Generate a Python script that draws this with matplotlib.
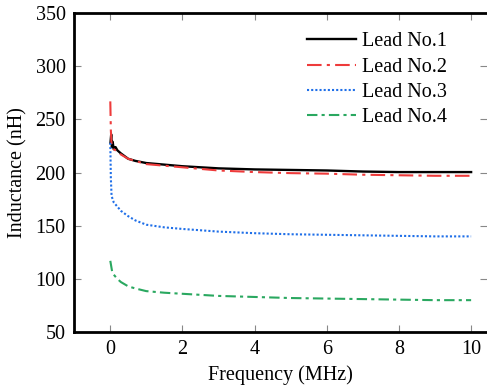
import matplotlib.pyplot as plt

plt.rcParams['font.family'] = ['Liberation Serif', 'DejaVu Serif']

# Frequency (MHz) and inductance (nH)
freq1 = [0.01, 0.03, 0.05, 0.07, 0.1, 0.15, 0.2, 0.3, 0.5, 0.7, 1.0, 1.5, 2.0, 3.0, 4.0, 5.0, 6.0, 7.0, 8.0, 9.0, 10.0]
lead1 = [228, 236, 224, 229, 222, 224, 221, 218, 213, 211, 209, 207.5, 206, 204, 203, 202.5, 202, 201, 200.5, 200.5, 200.5]

freq2 = [0.005, 0.02, 0.04, 0.07, 0.1, 0.2, 0.3, 0.5, 0.7, 1.0, 1.5, 2.0, 3.0, 4.0, 5.0, 6.0, 7.0, 8.0, 9.0, 10.0]
lead2 = [267, 240, 226, 223, 222, 220, 217, 213, 211, 208, 206.5, 205, 202, 200.5, 199.5, 199, 198, 197.5, 197, 197]

freq3 = [0.005, 0.02, 0.04, 0.07, 0.1, 0.2, 0.3, 0.5, 0.7, 1.0, 1.5, 2.0, 3.0, 4.0, 5.0, 6.0, 7.0, 8.0, 9.0, 10.0]
lead3 = [228, 195, 178, 175, 172, 168, 164, 159, 155, 151, 148.5, 147, 144.5, 143, 142, 141.5, 141, 140.5, 140, 140]

freq4 = [0.005, 0.03, 0.06, 0.1, 0.2, 0.3, 0.5, 0.7, 1.0, 1.5, 2.0, 3.0, 4.0, 5.0, 6.0, 7.0, 8.0, 9.0, 10.0]
lead4 = [117, 112, 106, 104, 100, 97, 93, 91, 88.5, 87, 86, 84, 83, 82, 81.5, 81, 80.5, 80, 80]

labels = ['Lead No.1', 'Lead No.2', 'Lead No.3', 'Lead No.4']

fig, ax = plt.subplots(figsize=(4.87, 3.87), dpi=100)
fig.subplots_adjust(left=0.152, right=1.0, top=0.966, bottom=0.142)

ax.plot(freq1, lead1, color='black', lw=1.7, label=labels[0])
ax.plot(freq2, lead2, color='#ee3b3b', lw=1.5, dashes=(7, 2.5, 1.5, 2.5), label=labels[1])
ax.plot(freq3, lead3, color='#1f6fe8', lw=1.5, dashes=(1, 1), label=labels[2])
ax.plot(freq4, lead4, color='#2aa860', lw=1.5, dashes=(5, 2, 1.5, 2), label=labels[3])

ax.set_xlim(-1, 10.44)
ax.set_ylim(50, 350)
ax.set_xticks([0, 2, 4, 6, 8, 10])
ax.set_yticks([50, 100, 150, 200, 250, 300, 350])
ax.tick_params(direction='in', top=True, right=True, length=5, color='#888888',
               labelsize=14.5, pad=6)
for side in ['left', 'bottom', 'top']:
    ax.spines[side].set_linewidth(2)
ax.spines['right'].set_visible(False)

ax.set_xlabel('Frequency (MHz)', fontsize=14.5, labelpad=4)
ax.set_ylabel('Inductance (nH)', fontsize=14.5, labelpad=6)

ax.legend(loc='upper right', bbox_to_anchor=(0.922, 0.965), frameon=False,
          fontsize=14.5, handlelength=2.4, handletextpad=0.3, labelspacing=0.3,
          borderaxespad=0)

fig.savefig('out.png', dpi=100)
